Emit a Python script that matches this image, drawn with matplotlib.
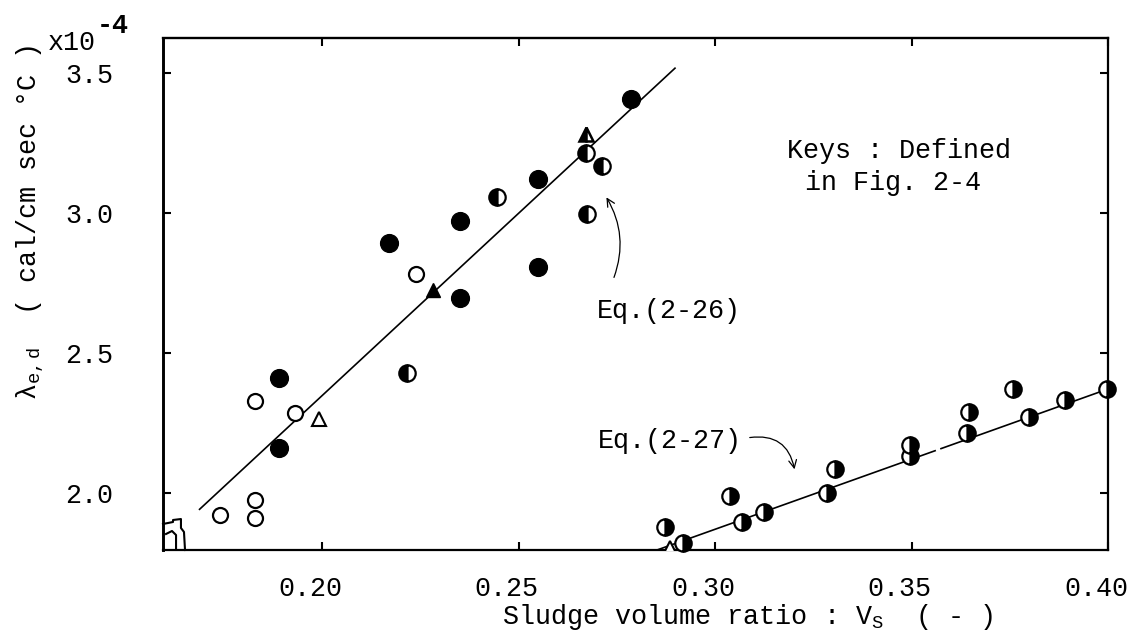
import matplotlib
matplotlib.use("Agg")
import matplotlib.pyplot as plt
import matplotlib.transforms as mtransforms
import numpy as np

FONT = "Liberation Mono"
plt.rcParams["font.family"] = [FONT, "DejaVu Sans"]
plt.rcParams["mathtext.fontset"] = "custom"
plt.rcParams["mathtext.rm"] = FONT
plt.rcParams["mathtext.it"] = FONT
plt.rcParams["mathtext.bf"] = FONT + ":bold"
FS = 19.3

# ---- measured effective thermal conductivity (x1e-4 cal/cm sec C) ----
open_x = [0.174, 0.183, 0.183, 0.183, 0.193, 0.224]
open_y = [1.922, 1.976, 1.911, 2.330, 2.286, 2.782]

filled_x = [0.189, 0.189, 0.217, 0.235, 0.235, 0.255, 0.255, 0.2785]
filled_y = [2.411, 2.161, 2.895, 2.973, 2.696, 3.121, 2.809, 3.407]

half_left_x = [0.2216, 0.2445, 0.2672, 0.2712, 0.2675]
half_left_y = [2.429, 3.059, 3.216, 3.169, 2.997]

half_right_x = [0.2873, 0.2919, 0.3038, 0.3068, 0.3125, 0.3284, 0.3305,
                0.3496, 0.3496, 0.3640, 0.3647, 0.3759, 0.3800, 0.3891, 0.3997]
half_right_y = [1.881, 1.821, 1.990, 1.899, 1.934, 2.000, 2.086,
                2.133, 2.172, 2.214, 2.291, 2.371, 2.274, 2.333, 2.371]

open_tri_x = [0.1991, 0.2885]
open_tri_y = [2.264, 1.805]
filled_tri_x = [0.2283]
filled_tri_y = [2.726]
half_tri_x = [0.2672]
half_tri_y = [3.283]

# ---- correlations: lambda = a + b * Vs ----
eq26_coef = [-0.255, 13.02]
eq26_segments = [(0.1688, 0.2898)]
eq27_coef = [0.3685, 5.01]
eq27_segments = [(0.2852, 0.3560), (0.3575, 0.4000)]

x_ticks = [0.20, 0.25, 0.30, 0.35, 0.40]
x_ticklabels = ["0.20", "0.25", "0.30", "0.35", "0.40"]
y_ticks = [2.0, 2.5, 3.0, 3.5]
y_ticklabels = ["2.0", "2.5", "3.0", "3.5"]

W, H = 1129, 631
fig = plt.figure(figsize=(W / 100, H / 100), dpi=100)
ax = fig.add_axes([163 / W, 1 - 550 / H, 945 / W, 512 / H])
ax.set_xlim(0.1595, 0.40)
ax.set_ylim(1.7975, 3.626)

# correlation lines
for coef, segs in ((eq26_coef, eq26_segments), (eq27_coef, eq27_segments)):
    for x0, x1 in segs:
        xs = np.array([x0, x1])
        ax.plot(xs, coef[0] + coef[1] * xs, color="black", lw=1.2, zorder=2)

# markers
ax.plot(open_x, open_y, "o", ms=10.8, mfc="white", mec="black", mew=1.6,
        ls="none", zorder=3, clip_on=False)
ax.plot(filled_x, filled_y, "o", ms=12.8, mfc="black", mec="black", mew=1.0,
        ls="none", zorder=3, clip_on=False)
ax.plot(half_left_x, half_left_y, "o", ms=11.8, fillstyle="left", mfc="black",
        markerfacecoloralt="white", mec="black", mew=1.6, ls="none",
        zorder=3, clip_on=False)
ax.plot(half_right_x, half_right_y, "o", ms=11.8, fillstyle="right", mfc="black",
        markerfacecoloralt="white", mec="black", mew=1.6, ls="none",
        zorder=3, clip_on=False)
ax.plot(open_tri_x, open_tri_y, "^", ms=9.5, mfc="white", mec="black", mew=1.5,
        ls="none", zorder=3)
ax.plot(filled_tri_x, filled_tri_y, "^", ms=9.5, mfc="black", mec="black", mew=1.0,
        ls="none", zorder=3)
ax.plot(half_tri_x, half_tri_y, "^", ms=9.5, fillstyle="left", mfc="black",
        markerfacecoloralt="white", mec="black", mew=1.8, ls="none", zorder=3)

# axes frame and ticks
for side, lw in (("left", 2.1), ("top", 1.7), ("right", 1.6), ("bottom", 1.6)):
    ax.spines[side].set_linewidth(lw)
ax.set_xticks(x_ticks)
ax.set_xticklabels(x_ticklabels)
ax.set_yticks(y_ticks)
ax.set_yticklabels(y_ticklabels)
ax.tick_params(axis="both", direction="in", length=6, width=1.5,
               top=True, right=True, labelsize=FS)
ax.tick_params(axis="x", pad=19)
ax.tick_params(axis="y", pad=36)
shift = mtransforms.ScaledTranslation(-0.12, 0, fig.dpi_scale_trans)
for lbl in ax.get_xticklabels():
    lbl.set_transform(lbl.get_transform() + shift)

# axis break mark in the lower-left corner
ax.plot([0, 0.0106, 0.0106, 0.0190, 0.0190, 0.0222, 0.0233],
        [0.0508, 0.0547, 0.0586, 0.0605, 0.0430, 0.0352, 0.0],
        transform=ax.transAxes, color="black", lw=1.5, clip_on=False)
ax.plot([0.0032, 0.0095, 0.0138, 0.0138],
        [0.0313, 0.0371, 0.0293, 0.0039],
        transform=ax.transAxes, color="black", lw=1.5, clip_on=False)

# axis titles
fig.text(30 / W, 1 - 222 / H, "λ$_{\\mathrm{e,d}}$  ( cal/cm sec °C )",
         rotation=90, ha="center", va="center", fontsize=FS)
fig.text(48 / W, 1 - 50 / H, "x10", ha="left", va="baseline", fontsize=FS)
fig.text(97 / W, 1 - 33 / H, "-4", ha="left", va="baseline", fontsize=FS,
         fontweight="bold")
fig.text(748 / W, 1 - 617 / H, "Sludge volume ratio : V$_{\\mathrm{S}}$  ( - )",
         ha="center", va="center", fontsize=FS)

# notes
ax.text(0.6603, 0.7656, "Keys : Defined", transform=ax.transAxes,
        ha="left", va="baseline", fontsize=FS)
ax.text(0.6794, 0.7031, "in Fig. 2-4", transform=ax.transAxes,
        ha="left", va="baseline", fontsize=FS)
ax.text(0.4593, 0.453, "Eq.(2-26)", transform=ax.transAxes,
        ha="left", va="baseline", fontsize=FS)
ax.text(0.4603, 0.199, "Eq.(2-27)", transform=ax.transAxes,
        ha="left", va="baseline", fontsize=FS)

arrow = dict(arrowstyle="->", color="black", lw=0.9, mutation_scale=14)
ax.annotate("", xy=(0.4677, 0.6934), xytext=(0.4762, 0.5273),
            xycoords="axes fraction", textcoords="axes fraction",
            arrowprops=dict(arrow, connectionstyle="arc3,rad=0.25"))
ax.annotate("", xy=(0.6688, 0.1523), xytext=(0.6180, 0.2188),
            xycoords="axes fraction", textcoords="axes fraction",
            arrowprops=dict(arrow, connectionstyle="arc3,rad=-0.5"))

fig.savefig("out.png", dpi=100)
